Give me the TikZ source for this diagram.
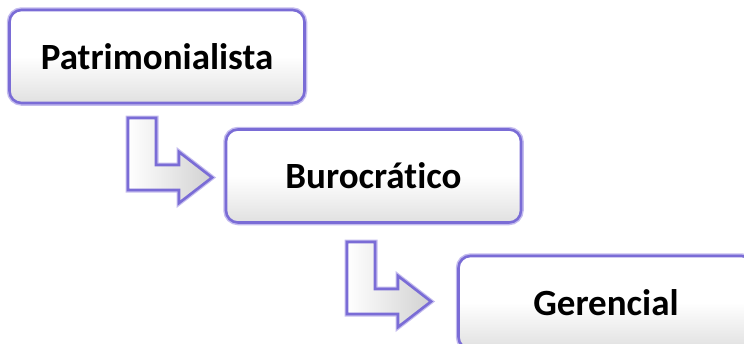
\documentclass[tikz,border=0pt]{standalone}
\usepackage{fontspec}
\setmainfont{Carlito}[Ligatures=NoCommon]
\definecolor{boxline}{RGB}{122,108,214}
\definecolor{boxglow}{RGB}{196,188,238}
\tikzset{bentarrow/.pic={
  \path[arrowdecorate] (0,0) -- (28,0) -- (28,47) -- (51,47) -- (51,34)
    -- (84,59.5) -- (51,85) -- (51,72) -- (0,72) -- cycle;
}}
\begin{document}
\begin{tikzpicture}
[x=1pt,y=-1pt,
 boxdecorate/.style={shape=rectangle,rounded corners=12pt,draw=boxline,line width=2.6pt,
   preaction={draw=boxglow,line width=5.5pt},
   top color=white,bottom color=black!12,middle color=white,
   minimum width=295pt,minimum height=93pt,
   font=\fontsize{37}{42}\selectfont\bfseries},
 arrowdecorate/.style={draw=boxline,line width=2.6pt,line join=miter,
   preaction={draw=boxglow,line width=5pt},
   left color=white,right color=black!18}]
\path[use as bounding box] (0,0) rectangle (744,343);
\clip (0,0) rectangle (744,343);
%% boxes
\foreach \nodename/\x/\y/\label in {patri/157/56.5/Patrimonialista,
  buro/373.5/176/Burocrático, geren/606/302.5/Gerencial} {
  \node (\nodename) at (\x,\y) [boxdecorate] {\label};
}
%% bent arrows
\foreach \arrowname/\x/\y in {arrowa/128/118, arrowb/347/242} {
  \pic (\arrowname) at (\x,\y) {bentarrow};
}
\end{tikzpicture}
\end{document}
